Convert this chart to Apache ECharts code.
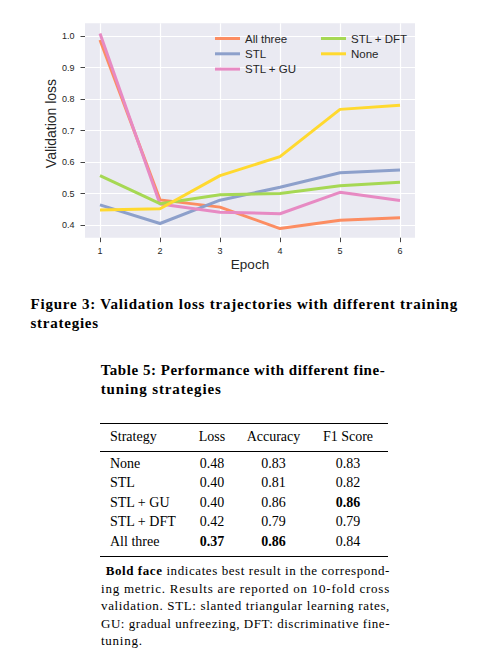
<!DOCTYPE html>
<html><head><meta charset="utf-8">
<script src="https://cdn.jsdelivr.net/npm/echarts@6/dist/echarts.min.js"></script>
<style>
html,body{margin:0;padding:0;background:#fff;}
#page{position:relative;width:479px;height:668px;overflow:hidden;font-family:"Liberation Serif",serif;color:#000;}
#chart{position:absolute;left:0;top:0;width:479px;height:280px;}
.ln{position:absolute;line-height:1;white-space:nowrap;}
.c{text-align:center;}
.rule{position:absolute;left:100px;width:288px;background:#000;}
</style></head><body>
<div id="page">
<div id="chart"></div>
<div class="ln fit" data-w="427.5" style="left:30.5px;top:297.2px;font-size:15px;font-weight:bold;">Figure 3: Validation loss trajectories with different training</div>
<div class="ln fit" data-w="68.3" style="left:30.5px;top:316px;font-size:15px;font-weight:bold;">strategies</div>
<div class="ln fit" data-w="284.5" style="left:100.7px;top:362.8px;font-size:15px;font-weight:bold;">Table 5: Performance with different fine-</div>
<div class="ln fit" data-w="121" style="left:100.7px;top:382px;font-size:15px;font-weight:bold;">tuning strategies</div>
<div class="rule" style="top:422.5px;height:1.2px;"></div>
<div class="rule" style="top:450.5px;height:0.8px;"></div>
<div class="rule" style="top:555.5px;height:1.2px;"></div>
<div id="tbl"></div>
<div class="ln fit" data-w="284.3" style="left:105.7px;top:564.1px;font-size:13px;"><b>Bold face</b> indicates best result in the correspond-</div>
<div class="ln fit" data-w="289" style="left:101px;top:581.6px;font-size:13px;">ing metric. Results are reported on 10-fold cross</div>
<div class="ln fit" data-w="289" style="left:101px;top:599.1px;font-size:13px;">validation. STL: slanted triangular learning rates,</div>
<div class="ln fit" data-w="289" style="left:101px;top:616.6px;font-size:13px;">GU: gradual unfreezing, DFT: discriminative fine-</div>
<div class="ln fit" data-w="41.7" style="left:101px;top:634.1px;font-size:13px;">tuning.</div>
</div>
<script>
// ---- chart data ----
const epochs = [1, 2, 3, 4, 5, 6];
const yTicks = [0.4, 0.5, 0.6, 0.7, 0.8, 0.9, 1.0];
const seriesNames = ['All three', 'STL', 'STL + GU', 'STL + DFT', 'None'];
const allThree = [0.987, 0.480, 0.457, 0.389, 0.415, 0.423];
const stl      = [0.464, 0.405, 0.479, 0.520, 0.566, 0.575];
const stlGu    = [1.008, 0.467, 0.441, 0.436, 0.504, 0.478];
const stlDft   = [0.557, 0.468, 0.496, 0.500, 0.525, 0.536];
const none     = [0.448, 0.452, 0.557, 0.617, 0.767, 0.780];
const colors = ['#fc8d62', '#8da0cb', '#e78ac3', '#a6d854', '#ffd92f'];

// ---- table data ----
const tableHeader = ['Strategy', 'Loss', 'Accuracy', 'F1 Score'];
const tStrategies = ['None', 'STL', 'STL + GU', 'STL + DFT', 'All three'];
const tLoss = ['0.48', '0.40', '0.40', '0.42', '0.37'];
const tAcc  = ['0.83', '0.81', '0.86', '0.79', '0.86'];
const tF1   = ['0.83', '0.82', '0.86', '0.79', '0.84'];
const boldCells = [[4,1],[4,2],[2,3]];

// build table
(function(){
  const host = document.getElementById('tbl');
  const centers = [null, 212, 273.5, 348];
  const baselines = [441.7, 468.3, 487.8, 507.3, 526.8, 546.3];
  const fs = 14;
  const rows = [tableHeader].concat(tStrategies.map((s,i)=>[s,tLoss[i],tAcc[i],tF1[i]]));
  rows.forEach((r, ri) => {
    r.forEach((txt, ci) => {
      const d = document.createElement('div');
      d.className = 'ln';
      d.style.fontSize = fs + 'px';
      d.style.top = (baselines[ri] - 0.8375*fs) + 'px';
      if (ci === 0) { d.style.left = '110px'; }
      else { d.classList.add('c'); d.style.left = (centers[ci]-40)+'px'; d.style.width = '80px'; }
      if (ri > 0 && boldCells.some(b => b[0] === ri-1 && b[1] === ci)) d.style.fontWeight = 'bold';
      d.textContent = txt;
      host.appendChild(d);
    });
  });
})();

// fit text lines to their widths with letter spacing
document.querySelectorAll('.fit').forEach(el => {
  const target = parseFloat(el.dataset.w);
  const w = el.getBoundingClientRect().width;
  const n = el.textContent.length;
  el.style.letterSpacing = ((target - w) / n) + 'px';
});

const dataSets = [allThree, stl, stlGu, stlDft, none];
const chart = echarts.init(document.getElementById('chart'), null, {renderer: 'svg'});
const txt = '#262626';
const font = 'Liberation Sans';
const plotTop = 23.3, plotBottom = 280 - 237.7;
chart.setOption({
  animation: false,
  textStyle: {fontFamily: font},
  grid: [
    {left: 85, width: 330, top: 36, height: 189, show: false},
    {left: 100, width: 300, top: plotTop, bottom: plotBottom, show: false},
    {left: 85, width: 330, top: plotTop, bottom: plotBottom, show: true, backgroundColor: '#eaeaf2', borderWidth: 0}
  ],
  xAxis: [
    {gridIndex: 0, type: 'value', min: 0.75, max: 6.25, show: false},
    {gridIndex: 1, type: 'value', min: 1, max: 6, interval: 1,
     axisLine: {show: false},
     axisTick: {show: true, length: 4.5, lineStyle: {color: '#444', width: 1}},
     axisLabel: {color: txt, fontSize: 9, margin: 8.5, fontFamily: font},
     splitLine: {show: true, lineStyle: {color: '#ffffff', width: 1.2}},
     name: 'Epoch', nameLocation: 'middle', nameGap: 19.5, nameMoveOverlap: false,
     nameTextStyle: {color: txt, fontSize: 13.5, fontFamily: font}},
    {gridIndex: 2, type: 'value', show: false}
  ],
  yAxis: [
    {gridIndex: 0, type: 'value', min: yTicks[0], max: yTicks[yTicks.length-1], interval: 0.1,
     axisLine: {show: false},
     axisTick: {show: true, length: 4.5, lineStyle: {color: '#444', width: 1}},
     axisLabel: {color: txt, fontSize: 9, margin: 10.5, fontFamily: font, formatter: v => v.toFixed(1)},
     splitLine: {show: true, lineStyle: {color: '#ffffff', width: 1.2}},
     name: 'Validation loss', nameLocation: 'middle', nameGap: 27, nameRotate: 90, nameMoveOverlap: false,
     nameTextStyle: {color: txt, fontSize: 14, fontFamily: font, padding: [0, 0, 0, 14]}},
    {gridIndex: 1, type: 'value', min: 0.36, max: 1.04, show: false},
    {gridIndex: 2, type: 'value', show: false}
  ],
  legend: [
    {data: seriesNames.slice(0,3), orient: 'vertical', left: 210, top: 27.5, icon: 'rect',
     itemWidth: 25, itemHeight: 3, itemGap: 3.3, selectedMode: false,
     textStyle: {color: txt, fontSize: 11.5, lineHeight: 12, fontFamily: font}},
    {data: seriesNames.slice(3), orient: 'vertical', left: 316, top: 27.5, icon: 'rect',
     itemWidth: 25, itemHeight: 3, itemGap: 3.3, selectedMode: false,
     textStyle: {color: txt, fontSize: 11.5, lineHeight: 12, fontFamily: font}}
  ],
  series: seriesNames.map((n, i) => ({
    name: n, type: 'line', xAxisIndex: 1, yAxisIndex: 1,
    data: epochs.map((e, k) => [e, dataSets[i][k]]),
    showSymbol: false, symbol: 'none',
    color: colors[i],
    lineStyle: {width: 3, color: colors[i]},
    z: 2 + i
  }))
});
</script>
</body></html>
